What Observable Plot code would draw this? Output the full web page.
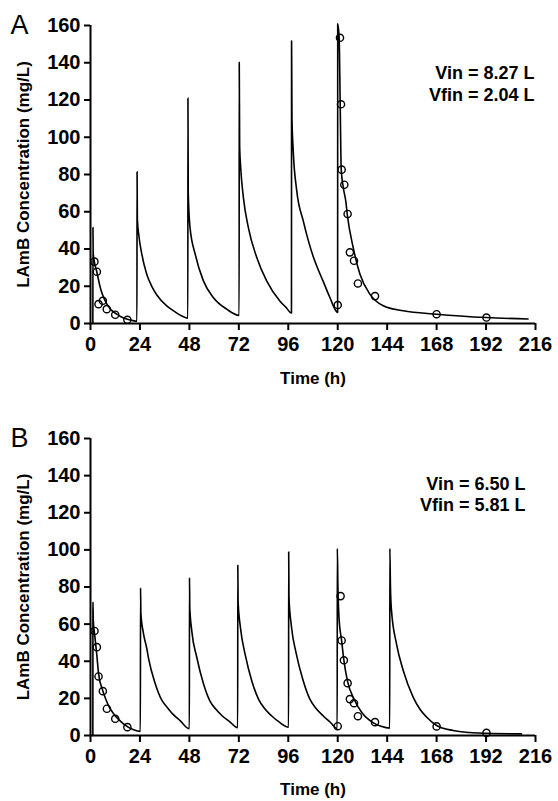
<!DOCTYPE html>
<html><head><meta charset="utf-8">
<script src="https://cdn.jsdelivr.net/npm/d3@7"></script>
<script src="https://cdn.jsdelivr.net/npm/@observablehq/plot@0.6"></script>
<style>
body{margin:0;background:#fff;overflow:hidden}
#c{width:558px;height:801px;overflow:hidden}
#c svg{display:block}
</style></head><body><div id="c"></div>
<script>
const FONT = "'Liberation Sans', Arial, Helvetica, sans-serif";
const xTicks = [0, 24, 48, 72, 96, 120, 144, 168, 192, 216];
const yTicks = [0, 20, 40, 60, 80, 100, 120, 140, 160];
const xLabel = "Time (h)";
const yLabel = "LAmB Concentration (mg/L)";

// Panel A — model prediction
const simTimeA = [
  1.15, 1.2, 1.3, 1.9, 3.1, 4.7, 6.0, 7.9, 10.0, 12.8, 15.0, 17.6, 20.0, 22.55,
  22.6, 22.75, 23.5, 24.9, 27.3, 29.5, 32.2, 37.0, 40.0, 43.5, 47.25,
  47.3, 47.45, 48.3, 50.8, 54.8, 59.6, 66.1, 72.15,
  72.2, 72.4, 72.9, 74.2, 76.6, 80.7, 85.5, 92.0, 95.0, 97.55,
  97.6, 97.8, 98.4, 100.1, 103.3, 108.1, 110.5, 113.0, 116.0, 119.95,
  120.0, 120.7, 121.2, 121.7, 122.7, 124.0, 124.7, 127.5, 130.8, 135.6, 142.1, 151.8, 168.0, 192.2, 212.4];
const simConcA = [
  0, 51.5, 38, 33, 27.5, 19.5, 15, 10.5, 7.3, 5, 3.5, 2.4, 1.7, 1.2,
  81.5, 56, 47, 37.3, 26.5, 20.5, 15.3, 9.5, 7, 4.5, 2.9,
  121, 70, 51.6, 37.3, 22.9, 14, 7.7, 4.3,
  140.3, 95, 83.8, 67.7, 51.6, 35.5, 22.9, 12, 8.5, 5.6,
  151.6, 110, 92.8, 71.3, 55, 36, 29, 22.5, 14.5, 6,
  160.9, 153.4, 117.7, 82.6, 73.1, 65, 58, 40.8, 26.5, 15.8, 9.5, 6.8, 5.0, 3.2, 2.4];
// Panel A — observed
const obsTimeA = [1.9, 3.1, 3.9, 6.0, 7.9, 12.0, 17.9, 120.0, 121.1, 121.6, 121.9, 123.2, 124.8, 125.9, 127.9, 129.8, 138.1, 168.0, 192.2];
const obsConcA = [33.2, 27.8, 10.4, 12.2, 7.7, 4.7, 2.0, 9.9, 153.4, 117.7, 82.6, 74.5, 58.8, 38.2, 33.7, 21.5, 14.7, 5.0, 3.2];

// Panel B — model prediction
const simTimeB = [
  1.15, 1.2, 1.35, 1.95, 3.1, 3.9, 6.0, 7.1, 9.0, 11.2, 13.5, 16.0, 20.9, 24.2,
  24.3, 24.45, 25.7, 27.3, 28.1, 31.4, 34.6, 37.0, 40.0, 43.5, 48.0,
  48.05, 48.2, 49.2, 51.6, 54.8, 58.0, 61.0, 64.0, 67.5, 71.45,
  71.5, 71.65, 72.8, 75.2, 78.4, 81.6, 84.5, 88.0, 91.5, 96.15,
  96.2, 96.35, 97.5, 99.9, 103.1, 106.3, 109.2, 113.0, 116.5, 119.75,
  119.8, 120.1, 120.6, 121.9, 123.0, 124.8, 128.0, 131.6, 137.3, 141.0, 145.25,
  145.3, 145.6, 146.1, 148.5, 151.8, 156.6, 160.0, 163.1, 168.0, 176.0, 184.0, 192.2, 209.2];
const simConcB = [
  0, 71.9, 62, 55, 43, 33.5, 24, 20.5, 15.5, 11.7, 8.8, 6.3, 3.1, 2.2,
  79.5, 66, 55, 47, 42, 28, 19, 15.5, 11.5, 8, 3.6,
  85, 69, 56, 42, 28, 18.5, 14, 10.5, 7.5, 4.2,
  91.7, 72, 58, 43, 29, 19.5, 14.5, 10.5, 7.3, 4.5,
  98.9, 74, 59, 44, 30, 20, 15, 10.5, 7, 3.6,
  100.7, 80, 64, 51, 40.5, 29, 19.5, 12.5, 6.8, 5, 4.0,
  100.7, 80, 67.4, 49.5, 35, 20.7, 14, 10, 5.4, 2.7, 1.6, 1.2, 0.9];
// Panel B — observed
const obsTimeB = [1.95, 3.1, 3.9, 6.0, 7.95, 12.0, 17.9, 120.0, 121.4, 121.9, 123.0, 124.8, 125.9, 127.9, 129.8, 138.1, 168.0, 192.2];
const obsConcB = [56.3, 47.6, 31.8, 23.9, 14.4, 9.0, 4.5, 5.0, 75.1, 51.2, 40.5, 28.2, 19.6, 17.4, 10.4, 7.2, 4.9, 1.4];

const annotA = ["Vin = 8.27 L", "Vfin = 2.04 L"];
const annotB = ["Vin = 6.50 L", "Vfin = 5.81 L"];

function panel(o) {
  const sim = o.simT.map((t, i) => ({t, c: o.simC[i]}));
  const obs = o.obsT.map((t, i) => ({t, c: o.obsC[i]}));
  const bold = {fontWeight: "bold", fill: "#000"};
  return Plot.plot({
    width: 558, height: o.height,
    marginLeft: 90, marginRight: 23, marginTop: 25, marginBottom: o.marginBottom,
    style: {fontFamily: FONT, background: "#fff", color: "#000", overflow: "visible"},
    x: {domain: [0, 216], axis: null},
    y: {domain: [0, 160], axis: null},
    marks: [
      Plot.line(sim, {x: "t", y: "c", curve: "monotone-x", stroke: "#000", strokeWidth: 1.6}),
      Plot.dot(obs, {x: "t", y: "c", r: 3.6, stroke: "#000", strokeWidth: 1.4, fill: "none"}),
      Plot.ruleX([0], {stroke: "#000", strokeWidth: 2}),
      Plot.ruleY([0], {stroke: "#000", strokeWidth: 2}),
      Plot.axisX({ticks: xTicks, tickSize: 7, tickPadding: 6, fontSize: 20, fontWeight: "bold", strokeWidth: 2, label: null, tickFormat: d => String(d)}),
      Plot.axisY({ticks: yTicks, tickSize: 6, tickPadding: 4, fontSize: 20, fontWeight: "bold", strokeWidth: 2, label: null, tickFormat: d => String(d)}),
      Plot.text([o.letter], {text: d => d, frameAnchor: "top-left", dx: -71, dy: 0, fontSize: 27, textAnchor: "middle", lineAnchor: "middle", fill: "#000"}),
      Plot.text([yLabel], {text: d => d, frameAnchor: "left", dx: -67, rotate: -90, fontSize: 17, textAnchor: "middle", lineAnchor: "middle", ...bold}),
      Plot.text([xLabel], {text: d => d, frameAnchor: "bottom", dy: o.xLabelDy, fontSize: 17, textAnchor: "middle", lineAnchor: "middle", ...bold}),
      Plot.text([o.annot[0]], {text: d => d, frameAnchor: "top-right", dx: o.annotDx, dy: o.annotDy[0], fontSize: 18, textAnchor: "end", lineAnchor: "middle", ...bold}),
      Plot.text([o.annot[1]], {text: d => d, frameAnchor: "top-right", dx: o.annotDx, dy: o.annotDy[1], fontSize: 18, textAnchor: "end", lineAnchor: "middle", ...bold})
    ]
  });
}

const c = document.getElementById("c");
c.append(panel({letter: "A", simT: simTimeA, simC: simConcA, obsT: obsTimeA, obsC: obsConcA,
  annot: annotA, annotDx: -1, annotDy: [48, 69.5], height: 413, marginBottom: 90, xLabelDy: 55}));
c.append(panel({letter: "B", simT: simTimeB, simC: simConcB, obsT: obsTimeB, obsC: obsConcB,
  annot: annotB, annotDx: -10, annotDy: [46, 67], height: 388, marginBottom: 66, xLabelDy: 54}));
</script></body></html>
